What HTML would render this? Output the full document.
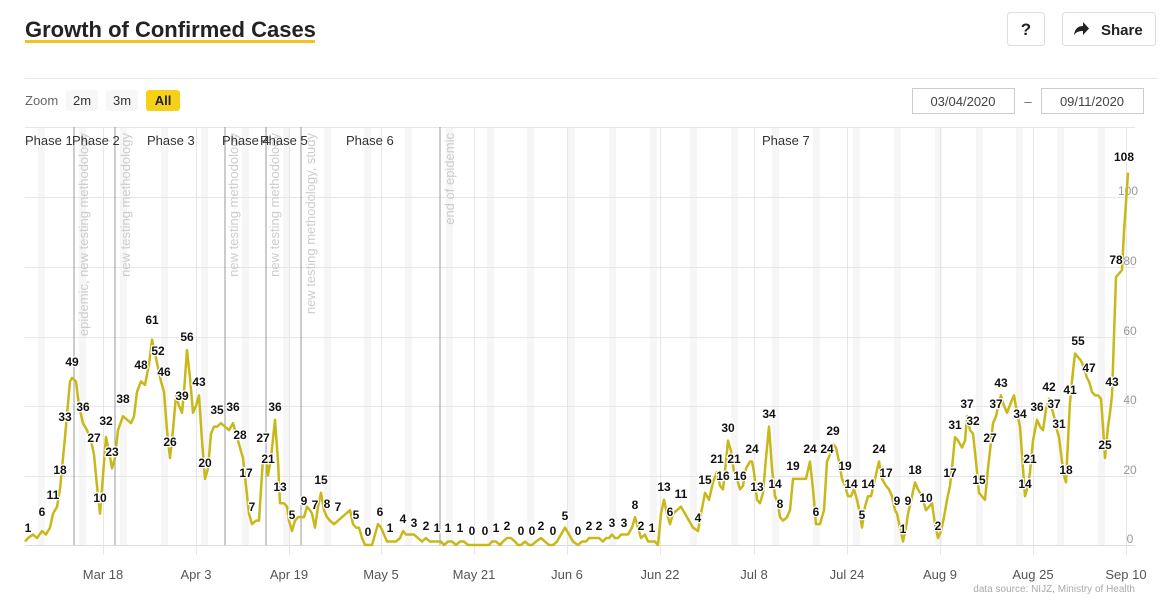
<!DOCTYPE html>
<html><head><meta charset="utf-8"><style>
html,body{margin:0;padding:0;background:#fff;width:1170px;height:609px;overflow:hidden;font-family:"Liberation Sans",sans-serif}
</style></head><body>
<svg width="1170" height="609" xmlns="http://www.w3.org/2000/svg" style="position:absolute;left:0;top:0;font-family:'Liberation Sans',sans-serif">
<text x="25" y="37" font-size="22" font-weight="bold" fill="#222">Growth of Confirmed Cases</text>
<rect x="25" y="40" width="290" height="3" fill="#f0c419"/>
<rect x="1007.5" y="12.5" width="37" height="33" rx="3" fill="#fff" stroke="#ddd"/>
<text x="1026" y="35" font-size="17" font-weight="bold" text-anchor="middle" fill="#222">?</text>
<rect x="1062.5" y="12.5" width="93" height="33" rx="3" fill="#fff" stroke="#ddd"/>
<path d="M1074,35 C1075,28 1079,26 1083,26 L1083,22 L1089,28.5 L1083,35 L1083,31 C1079,31 1076,32 1074,35Z" fill="#222"/>
<text x="1101" y="35" font-size="15" font-weight="bold" fill="#222">Share</text>
<line x1="25" y1="78.5" x2="1157" y2="78.5" stroke="#e6e6e6"/>
<text x="25" y="105" font-size="13" fill="#666">Zoom</text>
<rect x="66" y="90" width="32" height="21" rx="2" fill="#f7f7f7"/>
<text x="82" y="105" font-size="13" fill="#333" text-anchor="middle">2m</text>
<rect x="106" y="90" width="32" height="21" rx="2" fill="#f7f7f7"/>
<text x="122" y="105" font-size="13" fill="#333" text-anchor="middle">3m</text>
<rect x="146" y="90" width="34" height="21" rx="3" fill="#f5d117"/>
<text x="163" y="105" font-size="13" font-weight="bold" fill="#222" text-anchor="middle">All</text>
<rect x="912.5" y="88.5" width="102" height="25" fill="#fff" stroke="#ccc"/>
<text x="963" y="106" font-size="13" fill="#444" text-anchor="middle">03/04/2020</text>
<text x="1028" y="106" font-size="13" fill="#666" text-anchor="middle">–</text>
<rect x="1041.5" y="88.5" width="102" height="25" fill="#fff" stroke="#ccc"/>
<text x="1092" y="106" font-size="13" fill="#444" text-anchor="middle">09/11/2020</text>
<g fill="#f6f6f6">
<rect x="38" y="127" width="7" height="418"/><rect x="79" y="127" width="7" height="418"/><rect x="120" y="127" width="7" height="418"/><rect x="161" y="127" width="7" height="418"/><rect x="201" y="127" width="7" height="418"/><rect x="242" y="127" width="7" height="418"/><rect x="283" y="127" width="7" height="418"/><rect x="324" y="127" width="7" height="418"/><rect x="364" y="127" width="7" height="418"/><rect x="405" y="127" width="7" height="418"/><rect x="446" y="127" width="7" height="418"/><rect x="487" y="127" width="7" height="418"/><rect x="527" y="127" width="7" height="418"/><rect x="568" y="127" width="7" height="418"/><rect x="609" y="127" width="7" height="418"/><rect x="650" y="127" width="7" height="418"/><rect x="690" y="127" width="7" height="418"/><rect x="731" y="127" width="7" height="418"/><rect x="772" y="127" width="7" height="418"/><rect x="813" y="127" width="7" height="418"/><rect x="853" y="127" width="7" height="418"/><rect x="894" y="127" width="7" height="418"/><rect x="935" y="127" width="7" height="418"/><rect x="976" y="127" width="7" height="418"/><rect x="1016" y="127" width="7" height="418"/><rect x="1057" y="127" width="7" height="418"/><rect x="1098" y="127" width="7" height="418"/>
</g>
<g stroke="#e6e6e6" stroke-width="1">
<line x1="25" y1="127.5" x2="1135" y2="127.5"/>
<line x1="25" y1="197.5" x2="1135" y2="197.5"/>
<line x1="25" y1="267.5" x2="1135" y2="267.5"/>
<line x1="25" y1="337.5" x2="1135" y2="337.5"/>
<line x1="25" y1="406.5" x2="1135" y2="406.5"/>
<line x1="25" y1="476.5" x2="1135" y2="476.5"/>
<line x1="25" y1="545.5" x2="1135" y2="545.5" stroke="#ddd"/>
<line x1="103.5" y1="127" x2="103.5" y2="555"/><line x1="196.5" y1="127" x2="196.5" y2="555"/><line x1="289.5" y1="127" x2="289.5" y2="555"/><line x1="381.5" y1="127" x2="381.5" y2="555"/><line x1="474.5" y1="127" x2="474.5" y2="555"/><line x1="567.5" y1="127" x2="567.5" y2="555"/><line x1="660.5" y1="127" x2="660.5" y2="555"/><line x1="754.5" y1="127" x2="754.5" y2="555"/><line x1="847.5" y1="127" x2="847.5" y2="555"/><line x1="940.5" y1="127" x2="940.5" y2="555"/><line x1="1033.5" y1="127" x2="1033.5" y2="555"/><line x1="1126.5" y1="127" x2="1126.5" y2="555"/>
</g>
<g stroke="#999" stroke-width="1">
<line x1="74" y1="127" x2="74" y2="545"/><line x1="115" y1="127" x2="115" y2="545"/><line x1="225" y1="127" x2="225" y2="545"/><line x1="266" y1="127" x2="266" y2="545"/><line x1="301" y1="127" x2="301" y2="545"/><line x1="440" y1="127" x2="440" y2="545"/>
</g>
<g font-size="13" fill="#ccc">
<text transform="translate(88,133) rotate(-90)" text-anchor="end">epidemic, new testing methodology</text>
<text transform="translate(130,133) rotate(-90)" text-anchor="end">new testing methodology</text>
<text transform="translate(238,133) rotate(-90)" text-anchor="end">new testing methodology</text>
<text transform="translate(279,133) rotate(-90)" text-anchor="end">new testing methodology</text>
<text transform="translate(315,133) rotate(-90)" text-anchor="end">new testing methodology, study</text>
<text transform="translate(454,133) rotate(-90)" text-anchor="end">end of epidemic</text>
</g>
<g font-size="13" fill="#333">
<text x="25" y="145">Phase 1</text><text x="72" y="145">Phase 2</text><text x="147" y="145">Phase 3</text><text x="222" y="145">Phase 4</text><text x="260" y="145">Phase 5</text><text x="346" y="145">Phase 6</text><text x="762" y="145">Phase 7</text>
</g>
<g font-size="12" fill="#999" text-anchor="middle">
<text x="1130" y="543">0</text><text x="1130" y="474">20</text><text x="1130" y="404">40</text><text x="1130" y="335">60</text><text x="1130" y="265">80</text><text x="1128" y="195">100</text>
</g>
<g font-size="13" fill="#555" text-anchor="middle">
<text x="103" y="579">Mar 18</text><text x="196" y="579">Apr 3</text><text x="289" y="579">Apr 19</text><text x="381" y="579">May 5</text><text x="474" y="579">May 21</text><text x="567" y="579">Jun 6</text><text x="660" y="579">Jun 22</text><text x="754" y="579">Jul 8</text><text x="847" y="579">Jul 24</text><text x="940" y="579">Aug 9</text><text x="1033" y="579">Aug 25</text><text x="1126" y="579">Sep 10</text>
</g>
<text x="1135" y="592" font-size="10" fill="#aaa" text-anchor="end">data source: NIJZ, Ministry of Health</text>
<g transform="translate(0,545) scale(1,-3.48)">
<polyline fill="none" stroke="#c8b81a" stroke-width="2.5" vector-effect="non-scaling-stroke" stroke-linejoin="round" points="25,1 28,2 33,3 37,2 42,4 46,3 50,5 53,9 57,11 60,16 65,31 70,47 72,48 76,47 79,40 83,35 87,33 91,30 94,26 97,17 100,9 103,20 106,31 109,27 112,22 115,25 118,33 123,37 127,36 131,35 134,37 137,44 141,47 145,46 149,52 152,59 155,55 158,51 161,47 164,44 167,33 170,25 173,33 176,43 179,40 182,38 184,44 187,56 190,48 193,38 196,40 199,43 202,30 205,19 208,22 211,32 214,34 217,34 221,35 225,34 229,33 233,35 236,32 240,28 243,25 246,17 249,9 252,6 256,7 259,7 263,25 266,26 268,20 271,25 275,36 278,24 280,12 284,12 287,11 289,7 292,4 295,7 298,8 301,8 304,8 307,11 310,10 312,9 315,5 318,11 321,15 324,10 327,8 330,7 334,6 338,7 342,8 346,9 350,10 353,6 356,5 359,5 362,2 365,0 368,0 372,0 375,3 378,6 381,5 384,3 387,1 390,1 393,1 396,1 400,2 403,4 406,3 410,3 414,3 418,2 422,1 426,2 430,1 434,1 437,1 441,1 444,0 448,1 452,1 456,0 460,1 464,1 468,0 472,0 476,0 480,0 485,0 489,0 492,1 496,1 500,0 503,1 507,2 511,2 515,1 518,0 521,0 525,1 529,0 532,0 536,1 541,2 545,1 549,0 553,0 557,1 561,3 565,5 569,3 573,1 578,0 582,1 586,1 589,2 593,2 596,2 599,2 603,1 606,2 609,2 612,3 615,2 618,2 621,3 624,3 628,3 632,5 635,8 638,5 641,2 645,3 648,1 652,1 655,1 658,0 661,9 664,13 667,9 670,6 673,9 677,10 681,11 685,9 689,7 693,5 698,4 701,9 705,15 709,13 713,18 717,21 720,17 723,16 726,24 728,30 731,27 734,21 737,19 740,16 743,17 746,22 750,24 752,24 754,21 757,13 760,12 763,15 766,25 769,34 772,22 775,14 778,12 780,8 783,7 787,8 790,10 793,19 797,19 801,19 806,19 810,24 813,16 816,6 820,6 824,10 827,24 830,26 833,29 836,28 839,24 842,19 845,17 848,14 851,14 854,16 857,13 860,9 862,5 865,11 868,14 871,14 875,19 879,24 882,19 886,17 889,16 892,14 895,10 897,9 900,5 903,1 906,5 908,9 912,14 915,18 918,16 922,14 926,10 929,11 932,12 935,6 938,2 941,4 944,8 947,13 950,17 953,25 955,31 958,30 962,28 965,30 967,37 970,33 973,32 976,24 979,15 982,14 985,13 988,22 990,27 993,35 996,37 999,41 1001,43 1004,40 1007,38 1011,41 1014,43 1017,38 1020,34 1023,22 1025,14 1028,17 1030,21 1033,30 1037,36 1040,34 1043,33 1046,39 1049,42 1052,39 1054,37 1057,33 1059,31 1062,24 1064,20 1066,18 1068,30 1070,41 1073,50 1075,55 1078,54 1081,53 1084,51 1087,48 1089,47 1092,44 1095,43 1098,43 1101,42 1103,34 1105,25 1108,34 1110,38 1112,43 1114,60 1116,77 1119,78 1122,79 1124,90 1128,107"/>
</g>
<g font-size="12" font-weight="bold" fill="#111" text-anchor="middle" stroke="#fff" stroke-width="2.5" paint-order="stroke">
<text x="28" y="532">1</text><text x="42" y="516">6</text><text x="53" y="499">11</text><text x="60" y="474">18</text><text x="65" y="421">33</text><text x="72" y="366">49</text><text x="83" y="411">36</text><text x="94" y="442">27</text><text x="100" y="502">10</text><text x="106" y="425">32</text><text x="112" y="456">23</text><text x="123" y="403">38</text><text x="141" y="369">48</text><text x="152" y="324">61</text><text x="158" y="355">52</text><text x="164" y="376">46</text><text x="170" y="446">26</text><text x="182" y="400">39</text><text x="187" y="341">56</text><text x="199" y="386">43</text><text x="205" y="467">20</text><text x="217" y="414">35</text><text x="233" y="411">36</text><text x="240" y="439">28</text><text x="246" y="477">17</text><text x="252" y="511">7</text><text x="263" y="442">27</text><text x="268" y="463">21</text><text x="275" y="411">36</text><text x="280" y="491">13</text><text x="292" y="519">5</text><text x="304" y="505">9</text><text x="315" y="509">7</text><text x="321" y="484">15</text><text x="327" y="508">8</text><text x="338" y="511">7</text><text x="356" y="519">5</text><text x="368" y="536">0</text><text x="380" y="516">6</text><text x="390" y="532">1</text><text x="403" y="523">4</text><text x="414" y="527">3</text><text x="426" y="530">2</text><text x="437" y="532">1</text><text x="448" y="532">1</text><text x="460" y="532">1</text><text x="472" y="535">0</text><text x="485" y="535">0</text><text x="496" y="532">1</text><text x="507" y="530">2</text><text x="521" y="535">0</text><text x="532" y="535">0</text><text x="541" y="530">2</text><text x="553" y="535">0</text><text x="565" y="520">5</text><text x="578" y="535">0</text><text x="589" y="530">2</text><text x="599" y="530">2</text><text x="612" y="527">3</text><text x="624" y="527">3</text><text x="635" y="509">8</text><text x="641" y="530">2</text><text x="652" y="532">1</text><text x="664" y="491">13</text><text x="670" y="516">6</text><text x="681" y="498">11</text><text x="698" y="522">4</text><text x="705" y="484">15</text><text x="717" y="463">21</text><text x="723" y="480">16</text><text x="728" y="432">30</text><text x="734" y="463">21</text><text x="740" y="480">16</text><text x="752" y="453">24</text><text x="757" y="491">13</text><text x="769" y="418">34</text><text x="775" y="488">14</text><text x="780" y="508">8</text><text x="793" y="470">19</text><text x="810" y="453">24</text><text x="827" y="453">24</text><text x="816" y="516">6</text><text x="833" y="435">29</text><text x="845" y="470">19</text><text x="851" y="488">14</text><text x="868" y="488">14</text><text x="862" y="519">5</text><text x="879" y="453">24</text><text x="886" y="477">17</text><text x="897" y="505">9</text><text x="908" y="505">9</text><text x="903" y="533">1</text><text x="915" y="474">18</text><text x="926" y="502">10</text><text x="938" y="530">2</text><text x="950" y="477">17</text><text x="955" y="429">31</text><text x="967" y="408">37</text><text x="973" y="425">32</text><text x="979" y="484">15</text><text x="990" y="442">27</text><text x="996" y="408">37</text><text x="1001" y="387">43</text><text x="1020" y="418">34</text><text x="1025" y="488">14</text><text x="1030" y="463">21</text><text x="1037" y="411">36</text><text x="1049" y="391">42</text><text x="1054" y="408">37</text><text x="1059" y="428">31</text><text x="1066" y="474">18</text><text x="1070" y="394">41</text><text x="1078" y="345">55</text><text x="1089" y="372">47</text><text x="1112" y="386">43</text><text x="1105" y="449">25</text><text x="1116" y="264">78</text><text x="1124" y="161">108</text>
</g>
</svg>
</body></html>
